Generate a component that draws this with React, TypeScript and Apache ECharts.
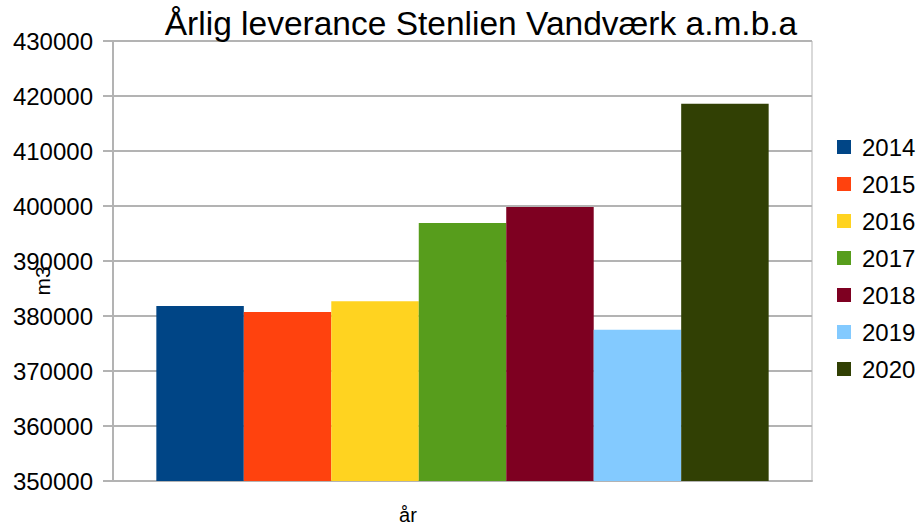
import React, { useEffect, useRef } from "react";
import * as echarts from "echarts";

const categories = ["år"];
const seriesNames = ["2014", "2015", "2016", "2017", "2018", "2019", "2020"];
const seriesValues = [381800, 380750, 382700, 396900, 399800, 377500, 418600];
const seriesColors = ["#004586", "#ff420e", "#ffd320", "#579d1c", "#7e0021", "#83caff", "#314004"];
const titleText = "Årlig leverance Stenlien Vandværk a.m.b.a";
const yAxisName = "m3";
const xAxisName = "år";

export default function App() {
  const ref = useRef<HTMLDivElement>(null);
  useEffect(() => {
    const chart = echarts.init(ref.current!, null, { renderer: "svg" });
    const font = "Liberation Sans, Arial, sans-serif";
    chart.setOption({
      animation: false,
      backgroundColor: "#ffffff",
      title: {
        text: titleText,
        left: 476,
        textAlign: "center",
        top: 1,
        textStyle: { fontFamily: font, fontSize: 33.5, fontWeight: "normal", color: "#000" },
      },
      legend: {
        orient: "vertical",
        left: 832,
        top: 130,
        itemWidth: 14,
        itemHeight: 14,
        itemGap: 13,
        icon: "rect",
        textStyle: { fontFamily: font, fontSize: 24, color: "#000", padding: [0, 0, 0, 6] },
        data: seriesNames,
      },
      grid: {
        left: 113,
        right: 919 - 812,
        top: 41,
        bottom: 525 - 481,
        show: true,
        borderColor: "#b3b3b3",
        borderWidth: 1,
      },
      graphic: [
        {
          type: "text",
          x: 408,
          y: 515,
          style: { text: xAxisName, font: `20px ${font}`, fill: "#000", textAlign: "center", textVerticalAlign: "middle" },
        },
        {
          type: "text",
          x: 42,
          y: 281,
          rotation: Math.PI / 2,
          style: { text: yAxisName, font: `21px ${font}`, fill: "#000", textAlign: "center", textVerticalAlign: "middle" },
        },
      ],
      xAxis: {
        type: "category",
        data: categories,
        axisLine: { lineStyle: { color: "#b3b3b3", width: 2 } },
        axisTick: { show: false },
        axisLabel: { show: false },
      },
      yAxis: {
        type: "value",
        min: 350000,
        max: 430000,
        interval: 10000,
        axisLine: { show: true, lineStyle: { color: "#b3b3b3", width: 2 } },
        axisTick: { show: true, length: 10, lineStyle: { color: "#b3b3b3", width: 2 } },
        axisLabel: { fontFamily: font, fontSize: 24, color: "#000", margin: 20, formatter: (v: number) => String(v) },
        splitLine: { lineStyle: { color: "#b3b3b3", width: 2 } },
      },
      series: seriesNames.map((name, i) => ({
        name,
        type: "bar",
        data: [seriesValues[i]],
        barGap: "0%",
        barCategoryGap: "12.4%",
        itemStyle: { color: seriesColors[i] },
      })),
    });
    return () => chart.dispose();
  }, []);
  return <div ref={ref} style={{ width: 919, height: 525, position: "absolute", left: 0, top: 0 }} />;
}
